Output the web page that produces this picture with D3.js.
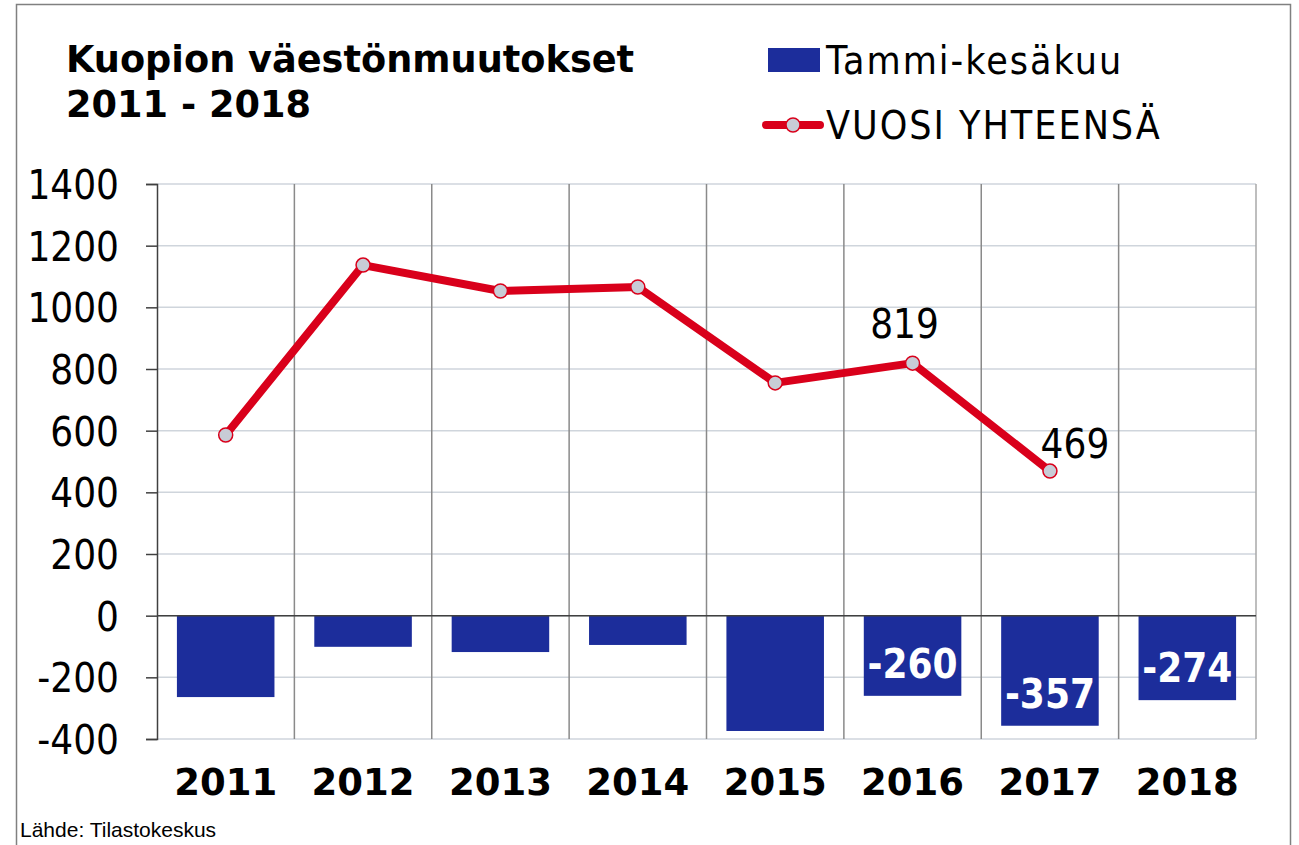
<!DOCTYPE html>
<html>
<head>
<meta charset="utf-8">
<script src="https://cdn.jsdelivr.net/npm/d3@7"></script>
<style>
body{margin:0;background:#fff;}
svg{display:block;}
</style>
</head>
<body>
<svg id="chart"></svg>
<script>
const width = 1299, height = 845;

// data
const years = ['2011','2012','2013','2014','2015','2016','2017','2018']
const halfYear = [-264,-101,-118,-95,-374,-260,-357,-274]
const fullYear = [586,1137,1053,1066,755,819,469]
const yTicks = [1400,1200,1000,800,600,400,200,0,-200,-400]
const barLabelYears = ['2016','2017','2018']
const lineLabelYears = ['2016','2017']

const blue = '#1c2d9b', red = '#d9001b'
const condensed = '"DejaVu Sans Condensed","DejaVu Sans",sans-serif'
const bold = '"DejaVu Sans","Verdana",sans-serif'

const margin = {left:157, right:43, top:184, bottom:106}

const svg = d3.select('#chart')
              .attr('width',width)
              .attr('height',height)

// outer frame
svg.append('rect')
   .attr('x',16.5).attr('y',4.5)
   .attr('width',1274).attr('height',850)
   .attr('fill','none').attr('stroke','#808080').attr('stroke-width',1.5)

const x = d3.scaleBand().domain(years).range([margin.left,width-margin.right]).paddingInner(0.29).paddingOuter(0.145)
const xc = d3.scaleBand().domain(years).range([margin.left,width-margin.right])
const y = d3.scaleLinear().domain([-400,1400]).range([height-margin.bottom,margin.top])

// horizontal grid
svg.append('g')
   .selectAll('line')
   .data(yTicks)
   .enter().append('line')
     .attr('x1',margin.left).attr('x2',width-margin.right)
     .attr('y1',d=>y(d)).attr('y2',d=>y(d))
     .attr('stroke','#cfd5dc').attr('stroke-width',1.5)

// vertical category separators
svg.append('g')
   .selectAll('line')
   .data(years)
   .enter().append('line')
     .attr('x1',d=>xc(d)+xc.bandwidth()).attr('x2',d=>xc(d)+xc.bandwidth())
     .attr('y1',y(1400)).attr('y2',y(-400))
     .attr('stroke',(d,i)=>i===years.length-1?'#a8a8a8':'#8a8a8a').attr('stroke-width',1.5)

// bars
svg.append('g')
   .selectAll('rect')
   .data(years)
   .enter().append('rect')
     .attr('x',d=>x(d))
     .attr('width',x.bandwidth())
     .attr('y',y(0))
     .attr('height',(d,i)=>y(halfYear[i])-y(0))
     .attr('fill',blue)

// zero line
svg.append('line')
   .attr('x1',margin.left).attr('x2',width-margin.right)
   .attr('y1',y(0)).attr('y2',y(0))
   .attr('stroke','#404040').attr('stroke-width',1.5)

// y axis
const yAxis = svg.append('g')
   .attr('transform',`translate(${margin.left},0)`)
   .call(d3.axisLeft(y).tickValues(yTicks).tickSize(11).tickPadding(27).tickFormat(d=>String(d)))
yAxis.select('.domain').attr('stroke','#404040').attr('stroke-width',1.5)
yAxis.selectAll('.tick line').attr('stroke','#404040').attr('stroke-width',1.5)
yAxis.selectAll('text')
     .attr('fill','#000')
     .style('font-family',condensed)
     .style('font-size','40px')
     .attr('dy','0.36em')

// x axis labels
svg.append('g')
   .selectAll('text')
   .data(years)
   .enter().append('text')
     .attr('x',d=>xc(d)+xc.bandwidth()/2)
     .attr('y',795)
     .attr('text-anchor','middle')
     .style('font-family',bold)
     .style('font-weight','bold')
     .style('font-size','37px')
     .text(d=>d)

// bar value labels
svg.append('g')
   .selectAll('text')
   .data(barLabelYears)
   .enter().append('text')
     .attr('x',d=>x(d)+x.bandwidth()/2)
     .attr('y',d=>y(halfYear[years.indexOf(d)])-18)
     .attr('text-anchor','middle')
     .attr('fill','#fff')
     .style('font-family',condensed)
     .style('font-weight','bold')
     .style('font-size','40px')
     .text(d=>halfYear[years.indexOf(d)])

// total line
const linePts = fullYear.map((v,i)=>({year:years[i],v:v}))
const line = d3.line().x(d=>xc(d.year)+xc.bandwidth()/2).y(d=>y(d.v))
svg.append('path')
   .datum(linePts)
   .attr('d',line)
   .attr('fill','none')
   .attr('stroke',red)
   .attr('stroke-width',8)
   .attr('stroke-linejoin','round')

svg.append('g')
   .selectAll('circle')
   .data(linePts)
   .enter().append('circle')
     .attr('cx',d=>xc(d.year)+xc.bandwidth()/2)
     .attr('cy',d=>y(d.v))
     .attr('r',7)
     .attr('fill','#c8ccd6')
     .attr('stroke',red)
     .attr('stroke-width',1.5)

// line value labels
const lineLabelOffset = {'2016':[-8,-25],'2017':[25,-13]}
svg.append('g')
   .selectAll('text')
   .data(lineLabelYears)
   .enter().append('text')
     .attr('x',d=>xc(d)+xc.bandwidth()/2+lineLabelOffset[d][0])
     .attr('y',d=>y(fullYear[years.indexOf(d)])+lineLabelOffset[d][1])
     .attr('text-anchor','middle')
     .style('font-family',condensed)
     .style('font-size','40px')
     .text(d=>fullYear[years.indexOf(d)])

// title
const title = svg.append('text')
   .style('font-family',bold)
   .style('font-weight','bold')
   .style('font-size','36.7px')
title.append('tspan').attr('x',66).attr('y',72).text('Kuopion väestönmuutokset')
title.append('tspan').attr('x',66).attr('y',117).text('2011 - 2018')

// legend
const legend = svg.append('g')
legend.append('rect')
      .attr('x',768).attr('y',48).attr('width',52).attr('height',24)
      .attr('fill',blue)
legend.append('text')
      .attr('x',826).attr('y',74)
      .style('font-family',condensed)
      .style('font-size','39px')
      .style('letter-spacing','2px')
      .text('Tammi-kesäkuu')
legend.append('line')
      .attr('x1',766).attr('x2',820).attr('y1',125).attr('y2',125)
      .attr('stroke',red).attr('stroke-width',8).attr('stroke-linecap','round')
legend.append('circle')
      .attr('cx',793).attr('cy',125).attr('r',7)
      .attr('fill','#c8ccd6').attr('stroke',red).attr('stroke-width',1.5)
legend.append('text')
      .attr('x',826).attr('y',139)
      .style('font-family',condensed)
      .style('font-size','39px')
      .style('letter-spacing','2px')
      .text('VUOSI YHTEENSÄ')

// source
svg.append('text')
   .attr('x',20).attr('y',837)
   .style('font-family','"Liberation Sans",Arial,sans-serif')
   .style('font-size','21px')
   .text('Lähde: Tilastokeskus')
</script>
</body>
</html>
